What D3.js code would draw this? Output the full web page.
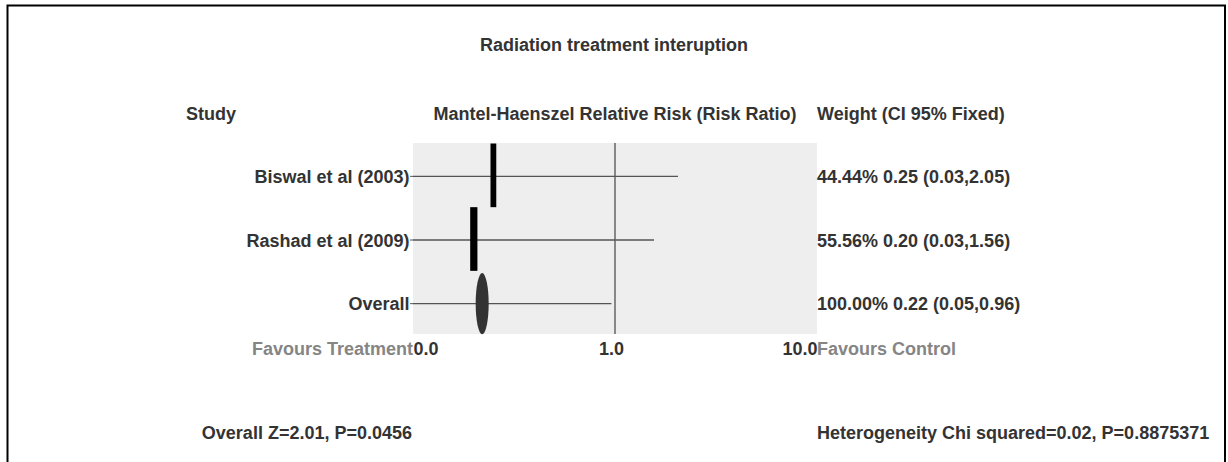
<!DOCTYPE html>
<html>
<head>
<meta charset="utf-8">
<script src="https://cdn.jsdelivr.net/npm/d3@7/dist/d3.min.js"></script>
<style>
  html, body { margin: 0; padding: 0; background: #ffffff; }
  svg { display: block; }
  text { font-family: "Liberation Sans", Arial, sans-serif; font-weight: bold; font-size: 18px; }
</style>
</head>
<body>
<svg id="chart" width="1228" height="462"></svg>
<script>
// ---- data ----
const studies = ["Biswal et al (2003)", "Rashad et al (2009)", "Overall"];
const riskRatio = [0.25, 0.20, 0.22];
const ciLower = [0.03, 0.03, 0.05];
const ciUpper = [2.05, 1.56, 0.96];
const weights = [44.44, 55.56, 100.00];
const tickValues = [0.1, 1, 10];
const tickLabels = ["0.0", "1.0", "10.0"];
const title = "Radiation treatment interuption";
const headers = ["Study", "Mantel-Haenszel Relative Risk (Risk Ratio)", "Weight (CI 95% Fixed)"];
const favours = ["Favours Treatment", "Favours Control"];
const overallTest = "Overall Z=2.01, P=0.0456";
const heterogeneity = "Heterogeneity Chi squared=0.02, P=0.8875371";

// ---- layout ----
const svg = d3.select("#chart");
const panel = { left: 413, right: 817, top: 143, bottom: 334 };
const textColor = "#333333";
const mutedColor = "#858585";
const base = 6.5; // baseline offset from visual center for 18px text

// frame
svg.append("path")
  .attr("d", `M7.5,470 L7.5,5.5 L1225,5.5 L1225,470`)
  .attr("fill", "none").attr("stroke", "#000").attr("stroke-width", 2);

const x = d3.scaleLog().domain([0.1, 10]).range([panel.left, panel.right]).clamp(true);
const y = d3.scaleBand().domain(studies).range([panel.top + 1.5, panel.bottom + 1.5]).padding(0);
const wScale = d3.scaleLinear().domain([0, 100]).range([0, 13]);
const cy = d => y(d) + y.bandwidth() / 2;

// panel background
svg.append("rect")
  .attr("x", panel.left).attr("y", panel.top)
  .attr("width", panel.right - panel.left).attr("height", panel.bottom - panel.top)
  .attr("fill", "#eeeeee");

// reference line at 1
svg.append("line")
  .attr("x1", x(1)).attr("x2", x(1))
  .attr("y1", panel.top).attr("y2", panel.bottom)
  .attr("stroke", "#444").attr("stroke-width", 1.2);

// title
svg.append("text").attr("x", 614).attr("y", 44 + base)
  .attr("text-anchor", "middle").attr("fill", textColor).text(title);

// headers
svg.append("text").attr("x", 186).attr("y", 113 + base).attr("fill", textColor).text(headers[0]);
svg.append("text").attr("x", (panel.left + panel.right) / 2).attr("y", 113 + base)
  .attr("text-anchor", "middle").attr("fill", textColor).text(headers[1]);
svg.append("text").attr("x", panel.right).attr("y", 113 + base).attr("fill", textColor).text(headers[2]);

// y axis (study labels)
const yAxis = svg.append("g")
  .attr("transform", `translate(${panel.left},0)`)
  .call(d3.axisLeft(y).tickSize(3).tickPadding(0.5));
yAxis.select(".domain").remove();
yAxis.selectAll("line").attr("stroke", "#555");
yAxis.selectAll("text")
  .attr("fill", textColor).attr("dy", null).attr("y", base)
  .style("font-family", '"Liberation Sans", Arial, sans-serif')
  .style("font-weight", "bold").style("font-size", "18px");

const rows = studies.map((s, i) => ({
  study: s, rr: riskRatio[i], lo: ciLower[i], hi: ciUpper[i], w: weights[i], overall: s === "Overall"
}));

// CI lines
svg.append("g").selectAll("line").data(rows).join("line")
  .attr("x1", d => x(d.lo)).attr("x2", d => x(d.hi))
  .attr("y1", d => cy(d.study)).attr("y2", d => cy(d.study))
  .attr("stroke", "#555").attr("stroke-width", 1.3);

// study estimates (bars)
svg.append("g").selectAll("rect").data(rows.filter(d => !d.overall)).join("rect")
  .attr("x", d => x(d.rr) - wScale(d.w) / 2)
  .attr("width", d => wScale(d.w))
  .attr("y", d => y(d.study) - 1)
  .attr("height", y.bandwidth())
  .attr("fill", "#000");

// overall estimate (ellipse)
svg.append("g").selectAll("ellipse").data(rows.filter(d => d.overall)).join("ellipse")
  .attr("cx", d => x(d.rr)).attr("cy", d => cy(d.study))
  .attr("rx", d => wScale(d.w) / 2).attr("ry", y.bandwidth() * 0.48)
  .attr("fill", "#333");

// weight texts
svg.append("g").selectAll("text").data(rows).join("text")
  .attr("x", panel.right).attr("y", d => cy(d.study) + base)
  .attr("fill", textColor)
  .text(d => `${d.w.toFixed(2)}% ${d.rr.toFixed(2)} (${d.lo.toFixed(2)},${d.hi.toFixed(2)})`);

// x axis
const xAxis = svg.append("g")
  .attr("transform", `translate(0,${panel.bottom})`)
  .call(d3.axisBottom(x).tickValues(tickValues).tickFormat((d, i) => tickLabels[i]).tickSize(0));
xAxis.select(".domain").remove();
xAxis.selectAll("text")
  .attr("dy", null).attr("y", 14 + base)
  .attr("fill", textColor)
  .style("font-family", '"Liberation Sans", Arial, sans-serif')
  .style("font-weight", "bold").style("font-size", "18px")
  .attr("text-anchor", (d, i) => i === 0 ? "start" : (i === tickValues.length - 1 ? "end" : "middle"))
  .attr("dx", (d, i) => (i === 0 || i === tickValues.length - 1) ? 0 : -4);

// favours labels
svg.append("text").attr("x", panel.left).attr("y", 348 + base)
  .attr("text-anchor", "end").attr("fill", mutedColor).text(favours[0]);
svg.append("text").attr("x", panel.right).attr("y", 348 + base)
  .attr("fill", mutedColor).text(favours[1]);

// bottom stats
svg.append("text").attr("x", panel.left - 1).attr("y", 432 + base)
  .attr("text-anchor", "end").attr("fill", textColor).text(overallTest);
svg.append("text").attr("x", panel.right).attr("y", 432 + base)
  .attr("fill", textColor).text(heterogeneity);
</script>
</body>
</html>
